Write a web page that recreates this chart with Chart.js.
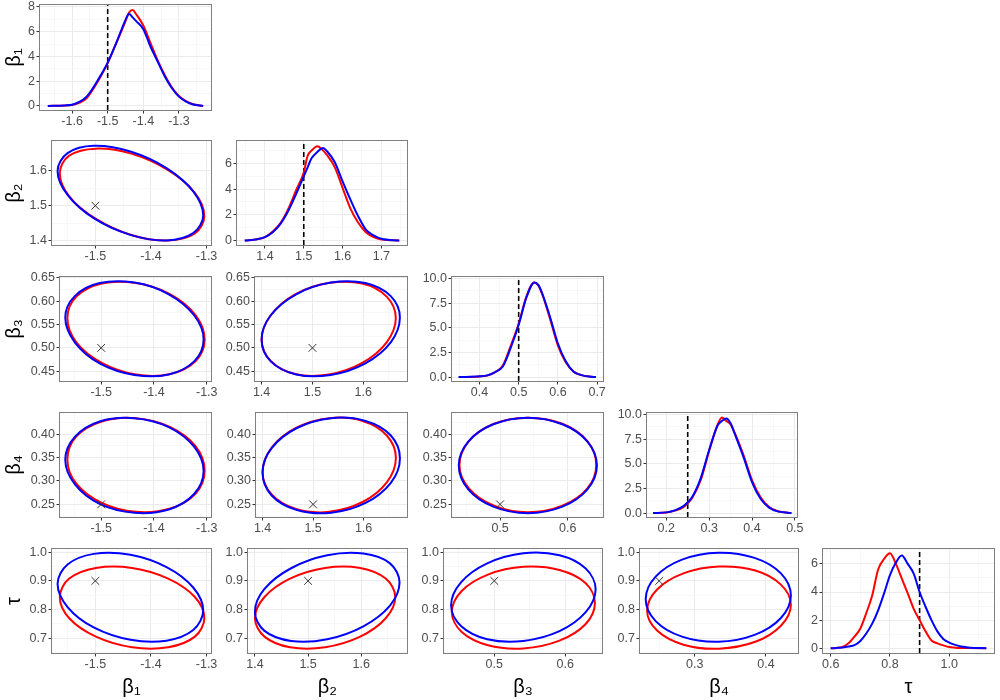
<!DOCTYPE html>
<html>
<head>
<meta charset="utf-8">
<script src="https://cdn.jsdelivr.net/npm/chart.js@4.4.1/dist/chart.umd.min.js"></script>
<style>
    html, body { margin: 0; padding: 0; background: #fff; }
    #page { position: relative; width: 1000px; height: 700px; overflow: hidden; background: #fff; }
</style>
</head>
<body>
<div id="page"></div>
<script>
const RED = '#FF0000';
const BLUE = '#0000FF';
const FONT = '"Liberation Sans", Arial, "DejaVu Sans", sans-serif';

const paramTitles = ['β\u2081', 'β\u2082', 'β\u2083', 'β\u2084', 'τ'];
const trueValues = [-1.5, 1.5, 0.5, 0.25, 0.9];

// ranges and ticks of each parameter on the ellipse panels
const pairLimits = [[-1.578, -1.292], [1.387, 1.686], [0.429, 0.652], [0.223, 0.445], [0.649, 1.011]];
const pairXTicks = [[-1.5, -1.4, -1.3], [1.4, 1.5, 1.6], [0.5, 0.6], [0.3, 0.4], []];
const pairYTicks = [[], [1.4, 1.5, 1.6], [0.45, 0.5, 0.55, 0.6, 0.65], [0.25, 0.3, 0.35, 0.4], [0.7, 0.8, 0.9, 1.0]];
const pairYDigits = [1, 1, 2, 2, 1];

// diagonal (density) panels
const densXLimits = [[-1.69, -1.21], [1.328, 1.766], [0.33, 0.715], [0.155, 0.505], [0.574, 1.151]];
const densYLimits = [[-0.33, 8.15], [-0.35, 7.75], [-0.4, 10.15], [-0.4, 10.15], [-0.34, 7.06]];
const densXTicks = [[-1.6, -1.5, -1.4, -1.3], [1.4, 1.5, 1.6, 1.7], [0.4, 0.5, 0.6, 0.7], [0.2, 0.3, 0.4, 0.5], [0.6, 0.8, 1.0]];
const densYTicks = [[0, 2, 4, 6, 8], [0, 2, 4, 6], [0, 2.5, 5, 7.5, 10], [0, 2.5, 5, 7.5, 10], [0, 2, 4, 6]];
const densYDigits = [0, 0, 1, 1, 0];

// density curves
const b1DensX = [-1.668, -1.62, -1.60, -1.58, -1.56, -1.54, -1.52, -1.50, -1.48, -1.46, -1.45, -1.44, -1.43, -1.42, -1.40, -1.38, -1.36, -1.34, -1.32, -1.30, -1.28, -1.26, -1.232];
const b1DensRed = [0, 0.03, 0.08, 0.25, 0.6, 1.4, 2.35, 3.45, 4.8, 6.15, 6.85, 7.55, 7.75, 7.4, 6.5, 5.1, 3.7, 2.5, 1.5, 0.8, 0.38, 0.13, 0];
const b1DensBlue = [0, 0.04, 0.1, 0.32, 0.72, 1.5, 2.45, 3.5, 4.8, 6.25, 6.95, 7.45, 7.15, 6.85, 6.2, 4.8, 3.6, 2.4, 1.45, 0.75, 0.35, 0.12, 0];

const b2DensX = [1.348, 1.38, 1.40, 1.42, 1.44, 1.46, 1.48, 1.50, 1.51, 1.52, 1.535, 1.55, 1.56, 1.58, 1.60, 1.62, 1.64, 1.66, 1.68, 1.70, 1.746];
const b2DensRed = [0, 0.1, 0.27, 0.7, 1.35, 2.45, 3.9, 5.3, 6.6, 7.0, 7.35, 7.0, 6.65, 5.7, 4.1, 2.5, 1.4, 0.65, 0.27, 0.08, 0];
const b2DensBlue = [0, 0.1, 0.26, 0.65, 1.3, 2.3, 3.6, 5.0, 5.7, 6.4, 6.9, 7.2, 6.95, 6.1, 4.6, 3.2, 1.9, 0.85, 0.4, 0.13, 0];

const b3DensX = [0.347, 0.40, 0.42, 0.44, 0.46, 0.48, 0.50, 0.52, 0.54, 0.55, 0.56, 0.58, 0.60, 0.62, 0.64, 0.66, 0.68, 0.697];
const b3DensRed = [0, 0.06, 0.15, 0.5, 1.2, 3.2, 5.4, 8.2, 9.6, 9.3, 8.4, 5.9, 3.2, 1.5, 0.55, 0.2, 0.05, 0];
const b3DensBlue = [0, 0.07, 0.17, 0.5, 1.1, 3.0, 5.3, 8.1, 9.6, 9.35, 8.5, 6.1, 3.4, 1.6, 0.55, 0.2, 0.05, 0];

const b4DensX = [0.169, 0.20, 0.22, 0.24, 0.25, 0.26, 0.28, 0.30, 0.32, 0.33, 0.34, 0.35, 0.36, 0.38, 0.40, 0.42, 0.44, 0.46, 0.48, 0.492];
const b4DensRed = [0, 0.06, 0.25, 0.6, 1.0, 1.5, 3.3, 6.3, 9.0, 9.7, 9.35, 9.0, 8.1, 5.9, 3.35, 1.6, 0.6, 0.18, 0.05, 0];
const b4DensBlue = [0, 0.07, 0.27, 0.7, 1.1, 1.6, 3.5, 6.4, 8.9, 9.35, 9.6, 9.1, 8.0, 5.7, 3.15, 1.45, 0.55, 0.17, 0.05, 0];

const tauDensX = [0.60, 0.62, 0.64, 0.66, 0.68, 0.70, 0.72, 0.74, 0.76, 0.78, 0.80, 0.82, 0.84, 0.86, 0.88, 0.90, 0.92, 0.94, 0.96, 0.98, 1.00, 1.02, 1.04, 1.07, 1.125];
const tauDensRed = [0, 0.02, 0.1, 0.35, 0.82, 1.4, 2.5, 3.75, 5.6, 6.35, 6.75, 6.0, 4.95, 3.9, 2.8, 2.0, 1.2, 0.55, 0.35, 0.2, 0.08, 0.04, 0.02, 0.01, 0];
const tauDensBlue = [0, 0.02, 0.05, 0.12, 0.22, 0.52, 1.05, 1.75, 2.7, 3.9, 5.2, 6.1, 6.6, 6.0, 5.3, 4.0, 2.95, 2.0, 1.2, 0.66, 0.4, 0.24, 0.12, 0.04, 0];

// ellipse outlines, 12 points each
const b1RingRed = [-1.304, -1.321, -1.369, -1.434, -1.499, -1.547, -1.564, -1.547, -1.499, -1.434, -1.369, -1.321];
const b1RingBlue = [-1.306, -1.324, -1.372, -1.437, -1.503, -1.550, -1.568, -1.550, -1.503, -1.437, -1.372, -1.324];
const b2RingRed = [1.664, 1.646, 1.598, 1.532, 1.466, 1.418, 1.400, 1.418, 1.466, 1.532, 1.598, 1.646];
const b2RingBlue = [1.672, 1.654, 1.604, 1.536, 1.468, 1.418, 1.400, 1.418, 1.468, 1.536, 1.604, 1.654];
const b3RingRed = [0.642, 0.629, 0.592, 0.541, 0.491, 0.454, 0.440, 0.454, 0.491, 0.541, 0.592, 0.629];
const b3RingBlue = [0.643, 0.629, 0.592, 0.541, 0.490, 0.453, 0.439, 0.453, 0.490, 0.541, 0.592, 0.629];
const b4RingRed = [0.435, 0.421, 0.385, 0.334, 0.284, 0.247, 0.233, 0.247, 0.284, 0.334, 0.385, 0.421];
const b4RingBlue = [0.435, 0.421, 0.384, 0.333, 0.282, 0.245, 0.231, 0.245, 0.282, 0.333, 0.384, 0.421];

const b2OnB1Red = [1.470, 1.537, 1.602, 1.649, 1.664, 1.644, 1.594, 1.527, 1.462, 1.415, 1.400, 1.420];
const b2OnB1Blue = [1.472, 1.541, 1.608, 1.656, 1.672, 1.651, 1.600, 1.531, 1.464, 1.416, 1.400, 1.421];
const b3OnB1Red = [0.518, 0.570, 0.615, 0.639, 0.638, 0.610, 0.564, 0.512, 0.468, 0.443, 0.444, 0.472];
const b3OnB1Blue = [0.518, 0.570, 0.615, 0.640, 0.639, 0.611, 0.565, 0.512, 0.467, 0.442, 0.443, 0.471];
const b3OnB2Red = [0.564, 0.610, 0.638, 0.639, 0.615, 0.570, 0.518, 0.472, 0.444, 0.443, 0.468, 0.512];
const b3OnB2Blue = [0.565, 0.611, 0.639, 0.640, 0.615, 0.570, 0.518, 0.471, 0.443, 0.442, 0.467, 0.512];
const b4OnB1Red = [0.322, 0.374, 0.415, 0.434, 0.427, 0.395, 0.346, 0.294, 0.253, 0.234, 0.241, 0.273];
const b4OnB1Blue = [0.321, 0.373, 0.415, 0.434, 0.427, 0.394, 0.345, 0.293, 0.251, 0.232, 0.239, 0.272];
const b4OnB2Red = [0.349, 0.397, 0.428, 0.434, 0.413, 0.371, 0.319, 0.271, 0.240, 0.234, 0.255, 0.297];
const b4OnB2Blue = [0.348, 0.397, 0.428, 0.434, 0.413, 0.370, 0.318, 0.269, 0.238, 0.232, 0.253, 0.296];
const b4OnB3Red = [0.334, 0.385, 0.422, 0.435, 0.422, 0.385, 0.334, 0.284, 0.247, 0.233, 0.247, 0.284];
const b4OnB3Blue = [0.333, 0.384, 0.421, 0.435, 0.421, 0.384, 0.333, 0.282, 0.245, 0.231, 0.245, 0.282];
const tauOnB1Red = [0.770, 0.844, 0.908, 0.945, 0.945, 0.908, 0.844, 0.770, 0.706, 0.669, 0.669, 0.706];
const tauOnB1Blue = [0.797, 0.877, 0.948, 0.991, 0.994, 0.957, 0.890, 0.809, 0.738, 0.695, 0.692, 0.729];
const tauOnB2Red = [0.844, 0.908, 0.945, 0.945, 0.908, 0.844, 0.770, 0.706, 0.669, 0.669, 0.706, 0.770];
const tauOnB2Blue = [0.894, 0.961, 0.995, 0.989, 0.944, 0.872, 0.792, 0.726, 0.691, 0.697, 0.742, 0.814];
const tauOnB3Red = [0.823, 0.892, 0.938, 0.949, 0.922, 0.865, 0.791, 0.722, 0.676, 0.665, 0.692, 0.750];
const tauOnB3Blue = [0.871, 0.943, 0.989, 0.996, 0.961, 0.895, 0.815, 0.743, 0.697, 0.691, 0.725, 0.791];
const tauOnB4Red = [0.817, 0.887, 0.936, 0.950, 0.926, 0.870, 0.797, 0.727, 0.678, 0.664, 0.688, 0.744];
const tauOnB4Blue = [0.849, 0.926, 0.980, 0.998, 0.974, 0.915, 0.837, 0.760, 0.706, 0.688, 0.712, 0.771];

const densX = [b1DensX, b2DensX, b3DensX, b4DensX, tauDensX];
const densRed = [b1DensRed, b2DensRed, b3DensRed, b4DensRed, tauDensRed];
const densBlue = [b1DensBlue, b2DensBlue, b3DensBlue, b4DensBlue, tauDensBlue];
const ringRed = [b1RingRed, b2RingRed, b3RingRed, b4RingRed];
const ringBlue = [b1RingBlue, b2RingBlue, b3RingBlue, b4RingBlue];
const ringYRed = [[], [b2OnB1Red], [b3OnB1Red, b3OnB2Red], [b4OnB1Red, b4OnB2Red, b4OnB3Red], [tauOnB1Red, tauOnB2Red, tauOnB3Red, tauOnB4Red]];
const ringYBlue = [[], [b2OnB1Blue], [b3OnB1Blue, b3OnB2Blue], [b4OnB1Blue, b4OnB2Blue, b4OnB3Blue], [tauOnB1Blue, tauOnB2Blue, tauOnB3Blue, tauOnB4Blue]];

// plot box of every panel in page pixels: left, top, right, bottom
const panelBoxes = [
    [[40, 5, 211, 110]],
    [[52, 141, 211, 245], [237, 141, 407, 245]],
    [[60, 277, 211, 381], [255, 277, 407, 381], [452, 277, 603, 381]],
    [[60, 413, 211, 517], [256, 413, 407, 517], [452, 413, 603, 517], [647, 413, 797, 517]],
    [[52, 549, 211, 653], [248, 549, 407, 653], [444, 549, 602, 653], [640, 549, 798, 653], [823, 549, 994, 653]]
];

Chart.defaults.font.family = FONT;
Chart.defaults.color = '#4D4D4D';

const panelFrame = {
    id: 'panelFrame',
    afterDatasetsDraw(chart) {
        const {ctx, chartArea: a} = chart;
        ctx.save();
        ctx.strokeStyle = '#7F7F7F';
        ctx.lineWidth = 1;
        ctx.strokeRect(Math.round(a.left) - 0.5, Math.round(a.top) - 0.5, Math.round(a.width) + 1, Math.round(a.height) + 1);
        ctx.restore();
    }
};

function minorValues(ticks, lim) {
    const step = ticks.length > 1 ? ticks[1] - ticks[0] : 0.1;
    const out = [ticks[0] - step / 2];
    ticks.forEach(t => out.push(t + step / 2));
    return out.filter(v => v > lim[0] && v < lim[1]);
}

function axisOptions(position, lim, ticks, digits, size, title) {
    const isMajor = v => ticks.some(t => Math.abs(t - v) < 1e-9);
    const all = ticks.concat(minorValues(ticks, lim)).sort((a, b) => a - b);
    const left = position === 'left';
    return {
        type: 'linear',
        position: position,
        min: lim[0],
        max: lim[1],
        afterBuildTicks: s => { s.ticks = all.map(v => ({value: v})); },
        afterFit: s => { if (left) s.width = size; else s.height = size; },
        ticks: {
            autoSkip: false,
            maxRotation: 0,
            minRotation: 0,
            color: '#4D4D4D',
            font: {size: 12.5},
            padding: left ? 1.5 : 1,
            callback: v => isMajor(v) ? v.toFixed(digits) : ''
        },
        grid: {
            color: c => (c.tick && isMajor(c.tick.value)) ? '#EBEBEB' : '#F3F3F3',
            lineWidth: c => (c.tick && isMajor(c.tick.value)) ? 1 : 0.6,
            tickLength: 3.5,
            tickWidth: 1,
            tickColor: c => (c.tick && isMajor(c.tick.value)) ? '#333333' : 'rgba(0,0,0,0)'
        },
        border: {display: false},
        title: title ? {
            display: true,
            text: title,
            color: '#000000',
            font: {size: 20},
            padding: left ? {top: 2, bottom: 0} : {top: 0, bottom: 1}
        } : {display: false}
    };
}

function ringData(xs, ys) {
    const pts = xs.map((x, i) => ({x: x, y: ys[i]}));
    const n = pts.length;
    // wrap round so the closing point gets smooth control points
    return [pts[n - 1]].concat(pts, [pts[0], pts[1]]);
}

function ringDataset(xs, ys, color, order) {
    const data = ringData(xs, ys);
    const last = data.length - 1;
    return {
        data: data,
        showLine: true,
        borderColor: color,
        borderWidth: 2,
        pointRadius: 0,
        tension: 0.35,
        order: order,
        segment: {
            borderColor: c => (c.p0DataIndex === 0 || c.p1DataIndex === last) ? 'rgba(0,0,0,0)' : color
        }
    };
}

function densDataset(xs, ys, color, order) {
    return {
        data: xs.map((x, i) => ({x: x, y: ys[i]})),
        showLine: true,
        borderColor: color,
        borderWidth: 2,
        pointRadius: 0,
        cubicInterpolationMode: 'monotone',
        order: order
    };
}

const page = document.getElementById('page');

function addPanel(row, col) {
    const [L, T, R, B] = panelBoxes[row][col];
    const left = col === 0 ? 0 : L - 45;
    const top = T - 10;
    const bottomEdge = row === 4 ? 700 : B + 30;
    const canvas = document.createElement('canvas');
    canvas.width = R + 12 - left;
    canvas.height = bottomEdge - top;
    canvas.style.cssText = 'position:absolute;left:' + left + 'px;top:' + top + 'px;';
    page.appendChild(canvas);

    const yTitle = col === 0 ? paramTitles[row] : null;
    const xTitle = row === 4 ? paramTitles[col] : null;
    let datasets, xAxis, yAxis;

    if (row === col) {
        const yLim = densYLimits[row];
        datasets = [
            {
                data: [{x: trueValues[col], y: yLim[0]}, {x: trueValues[col], y: yLim[1]}],
                showLine: true,
                borderColor: '#000000',
                borderWidth: 1.6,
                borderDash: [5, 3],
                pointRadius: 0,
                order: 3
            },
            densDataset(densX[col], densRed[col], RED, 2),
            densDataset(densX[col], densBlue[col], BLUE, 1)
        ];
        xAxis = axisOptions('bottom', densXLimits[col], densXTicks[col], 1, bottomEdge - B, xTitle);
        yAxis = axisOptions('left', yLim, densYTicks[row], densYDigits[row], L - left, yTitle);
    } else {
        datasets = [
            ringDataset(ringRed[col], ringYRed[row][col], RED, 2),
            ringDataset(ringBlue[col], ringYBlue[row][col], BLUE, 1),
            {
                data: [{x: trueValues[col], y: trueValues[row]}],
                showLine: false,
                pointStyle: 'crossRot',
                pointRadius: 5.5,
                pointBorderColor: '#333333',
                pointBorderWidth: 1,
                borderColor: '#333333',
                order: 0
            }
        ];
        xAxis = axisOptions('bottom', pairLimits[col], pairXTicks[col], 1, bottomEdge - B, xTitle);
        yAxis = axisOptions('left', pairLimits[row], pairYTicks[row], pairYDigits[row], L - left, yTitle);
    }

    new Chart(canvas, {
        type: 'scatter',
        data: {datasets: datasets},
        options: {
            responsive: false,
            animation: false,
            events: [],
            layout: {padding: {top: 10, right: 12, left: 0, bottom: 0}},
            plugins: {legend: {display: false}, tooltip: {enabled: false}},
            scales: {x: xAxis, y: yAxis}
        },
        plugins: [panelFrame]
    });
}

for (let row = 0; row < 5; row++) {
    for (let col = 0; col <= row; col++) {
        addPanel(row, col);
    }
}
</script>
</body>
</html>
